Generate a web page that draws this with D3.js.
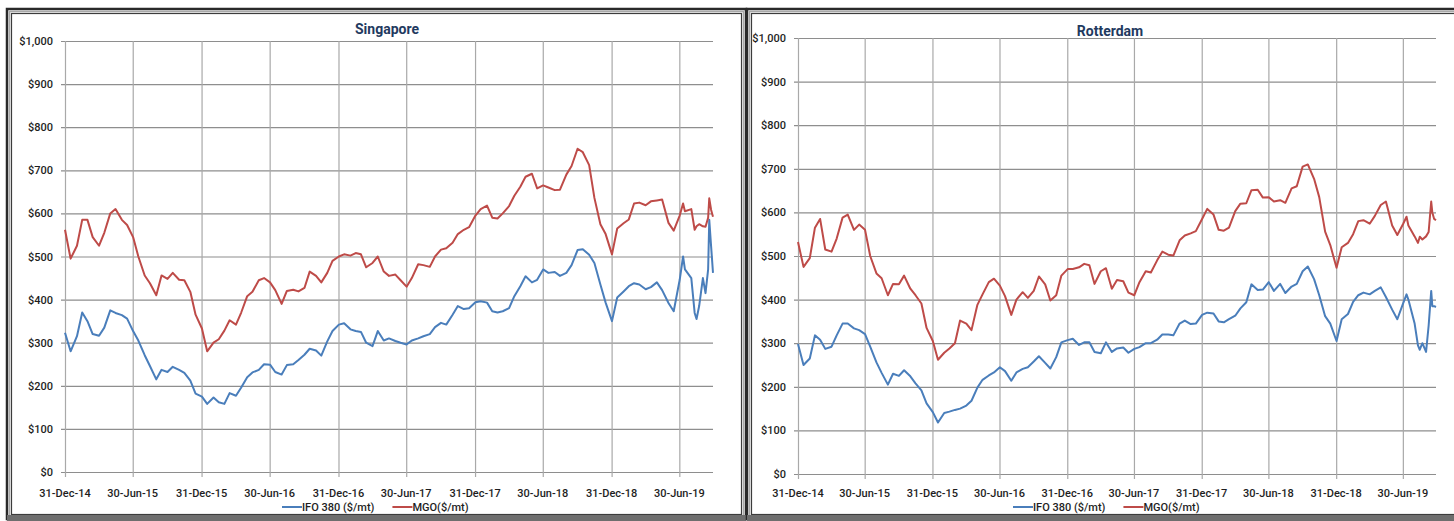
<!DOCTYPE html>
<html>
<head>
<meta charset="utf-8">
<script src="https://cdn.jsdelivr.net/npm/d3@7"></script>
<style>
body { margin: 0; background: #fff; }
svg { display: block; font-family: Roboto, "Liberation Sans", sans-serif; }
</style>
</head>
<body>
<div id="chart"></div>
<script>
// Bunker prices (semi-monthly samples)
const dates = [
  "2014-12-31",
  "2015-01-15", "2015-02-01", "2015-02-15", "2015-03-01", "2015-03-15", "2015-04-01", "2015-04-15",
  "2015-05-01", "2015-05-15", "2015-06-01", "2015-06-15", "2015-07-01", "2015-07-15", "2015-08-01",
  "2015-08-15", "2015-09-01", "2015-09-15", "2015-10-01", "2015-10-15", "2015-11-01", "2015-11-15",
  "2015-12-01", "2015-12-15",
  "2016-01-01", "2016-01-15", "2016-02-01", "2016-02-15", "2016-03-01", "2016-03-15", "2016-04-01",
  "2016-04-15", "2016-05-01", "2016-05-15", "2016-06-01", "2016-06-15", "2016-07-01", "2016-07-15",
  "2016-08-01", "2016-08-15", "2016-09-01", "2016-09-15", "2016-10-01", "2016-10-15", "2016-11-01",
  "2016-11-15", "2016-12-01", "2016-12-15",
  "2017-01-01", "2017-01-15", "2017-02-01", "2017-02-15", "2017-03-01", "2017-03-15", "2017-04-01",
  "2017-04-15", "2017-05-01", "2017-05-15", "2017-06-01", "2017-06-15", "2017-07-01", "2017-07-15",
  "2017-08-01", "2017-08-15", "2017-09-01", "2017-09-15", "2017-10-01", "2017-10-15", "2017-11-01",
  "2017-11-15", "2017-12-01", "2017-12-15",
  "2018-01-01", "2018-01-15", "2018-02-01", "2018-02-15", "2018-03-01", "2018-03-15", "2018-04-01",
  "2018-04-15", "2018-05-01", "2018-05-15", "2018-06-01", "2018-06-15", "2018-07-01", "2018-07-15",
  "2018-08-01", "2018-08-15", "2018-09-01", "2018-09-15", "2018-10-01", "2018-10-15", "2018-11-01",
  "2018-11-15", "2018-12-01", "2018-12-15",
  "2019-01-01", "2019-01-15", "2019-02-01", "2019-02-15", "2019-03-01", "2019-03-15", "2019-04-01",
  "2019-04-15", "2019-05-01", "2019-05-15", "2019-06-01", "2019-06-15", "2019-07-01", "2019-07-10",
  "2019-07-15", "2019-08-01", "2019-08-10", "2019-08-15", "2019-08-22", "2019-09-01", "2019-09-08",
  "2019-09-15", "2019-09-18", "2019-09-23", "2019-09-28"
];

const sgIfo = [
  323, 280, 315, 370, 350, 320, 316, 335, 375, 369, 364, 356, 327, 305, 271, 246, 215, 237, 232, 244, 237, 230, 212, 182,
  175, 158, 173, 162, 158, 183, 177, 196, 220, 231, 237, 250, 249, 232, 226, 248, 250, 260, 272, 286, 282, 270, 303, 327,
  342, 345, 331, 327, 325, 300, 292, 327, 305, 310, 304, 300, 296, 305, 310, 315, 320, 336, 346, 342, 365, 385, 378, 380,
  394, 396, 393, 373, 370, 373, 380, 408, 431, 454, 440, 446, 470, 462, 464, 455, 462, 480, 515, 517, 504, 485, 435, 393,
  350, 405, 419, 431, 438, 435, 424, 429, 440, 422, 392, 373, 446, 500, 470, 450, 369, 355, 385, 450, 415, 470, 585, 523, 462
];
const sgMgo = [
  562, 495, 525, 585, 585, 545, 525, 555, 600, 610, 585, 573, 545, 500, 456, 438, 410, 456, 448, 462, 446, 445, 418, 365,
  333, 280, 300, 308, 328, 352, 342, 370, 408, 418, 445, 450, 440, 422, 390, 420, 423, 419, 427, 465, 455, 440, 462, 490,
  500, 505, 502, 508, 505, 475, 485, 500, 465, 455, 458, 445, 430, 450, 482, 480, 476, 500, 516, 519, 532, 552, 562, 568,
  595, 610, 618, 590, 588, 600, 617, 641, 662, 685, 692, 658, 665, 660, 654, 655, 690, 710, 750, 742, 712, 636, 575, 552,
  505, 565, 577, 586, 623, 625, 619, 628, 630, 632, 578, 560, 595, 623, 605, 610, 562, 570, 575, 570, 569, 590, 635, 608, 592
];
const rtIfo = [
  298, 250, 265, 318, 308, 287, 292, 318, 345, 345, 334, 330, 321, 292, 256, 232, 205, 230, 225, 238, 224, 208, 192, 162,
  142, 118, 140, 143, 147, 150, 157, 168, 198, 216, 226, 233, 245, 236, 214, 233, 241, 245, 258, 270, 255, 242, 268, 302,
  307, 310, 296, 302, 302, 280, 277, 302, 280, 288, 290, 278, 287, 291, 300, 300, 308, 320, 320, 318, 345, 352, 344, 345,
  365, 370, 368, 350, 348, 355, 363, 380, 394, 435, 422, 423, 440, 420, 436, 415, 430, 436, 465, 476, 447, 410, 362, 345,
  305, 355, 367, 395, 410, 416, 412, 420, 428, 406, 377, 355, 392, 412, 400, 345, 295, 285, 300, 280, 340, 420, 385, 385, 383
];
const rtMgo = [
  532, 475, 495, 565, 585, 515, 510, 540, 588, 595, 560, 572, 560, 500, 460, 449, 410, 436, 435, 455, 425, 410, 391, 335,
  305, 262, 278, 288, 300, 352, 345, 330, 388, 412, 440, 448, 432, 408, 365, 400, 417, 404, 420, 453, 435, 398, 410, 455,
  470, 470, 474, 482, 479, 436, 465, 472, 425, 445, 442, 416, 410, 440, 465, 462, 490, 510, 503, 501, 536, 547, 552, 557,
  585, 608, 595, 560, 558, 565, 603, 620, 621, 651, 652, 634, 635, 625, 628, 622, 655, 660, 705, 710, 677, 635, 556, 525,
  473, 520, 530, 550, 580, 582, 574, 592, 617, 625, 570, 548, 574, 590, 570, 545, 530, 544, 538, 545, 555, 625, 600, 585, 582
];

const yTicks = [0, 100, 200, 300, 400, 500, 600, 700, 800, 900, 1000];
const xTickDates = ["2014-12-31", "2015-06-30", "2015-12-31", "2016-06-30", "2016-12-31",
  "2017-06-30", "2017-12-31", "2018-06-30", "2018-12-31", "2019-06-30"];
const seriesNames = ["IFO 380 ($/mt)", "MGO($/mt)"];
const seriesColors = ["#4a7ebb", "#be4b48"];
const panelTitles = ["Singapore", "Rotterdam"];

const parse = d3.timeParse("%Y-%m-%d");
const fmtTick = d3.timeFormat("%-d-%b-%y");
const fmtY = d3.format("$,");

const W = 1454, H = 521;
const svg = d3.select("#chart").append("svg")
  .attr("width", W)
  .attr("height", H);

// layout of the two chart boxes
const panels = [
  { title: panelTitles[0], series: [sgIfo, sgMgo],
    frame: { x: 7, y: 9, w: 739, h: 510 },
    plot: { left: 65, right: 713, top: 41, bottom: 472 },
    titleX: 387, titleY: 34, legendX: 282 },
  { title: panelTitles[1], series: [rtIfo, rtMgo],
    frame: { x: 747, y: 9, w: 720, h: 510 },
    plot: { left: 798, right: 1436, top: 38, bottom: 474 },
    titleX: 1110, titleY: 36, legendX: 1013 }
];

const xDomain = [parse(dates[0]), parse(dates[dates.length - 1])];

panels.forEach(p => {
  const g = svg.append("g");
  const f = p.frame;

  // double frame like the spreadsheet chart border
  g.append("rect").attr("x", f.x).attr("y", f.y).attr("width", f.w).attr("height", f.h)
    .attr("fill", "#fff").attr("stroke", "#2a2a2a").attr("stroke-width", 2.5);
  g.append("rect").attr("x", f.x + 2.5).attr("y", f.y + 2.5).attr("width", f.w - 5).attr("height", f.h - 5)
    .attr("fill", "none").attr("stroke", "#a8a8a8").attr("stroke-width", 1.5);
  g.append("rect").attr("x", f.x + 4.5).attr("y", f.y + 4.5).attr("width", f.w - 9).attr("height", f.h - 9)
    .attr("fill", "none").attr("stroke", "#3c3c3c").attr("stroke-width", 1.2);
  // grey shadow band along the bottom edge
  g.append("rect").attr("x", f.x).attr("y", f.y + f.h - 4).attr("width", f.w).attr("height", 6)
    .attr("fill", "#6e6e6e");

  const x = d3.scaleTime().domain(xDomain).range([p.plot.left, p.plot.right]);
  const y = d3.scaleLinear().domain([0, 1000]).range([p.plot.bottom, p.plot.top]);
  const pw = p.plot.right - p.plot.left;
  const ph = p.plot.bottom - p.plot.top;

  // horizontal gridlines + y ticks
  g.append("g")
    .attr("transform", `translate(${p.plot.left},0)`)
    .call(d3.axisLeft(y).tickValues(yTicks).tickSizeInner(-pw).tickSizeOuter(0).tickFormat(""))
    .call(a => a.select(".domain").remove())
    .call(a => a.selectAll("line").attr("stroke", "#8e8e8e").attr("stroke-width", 1.2)
      .attr("x1", -4));

  // vertical gridlines + x ticks
  g.append("g")
    .attr("transform", `translate(0,${p.plot.bottom})`)
    .call(d3.axisBottom(x).tickValues(xTickDates.map(parse)).tickSizeInner(-ph).tickSizeOuter(0).tickFormat(""))
    .call(a => a.select(".domain").remove())
    .call(a => a.selectAll("line").attr("stroke", "#a9a9a9").attr("stroke-width", 1.2)
      .attr("y1", 5));

  // y labels
  g.selectAll(".ylab")
    .data(yTicks)
    .enter()
    .append("text")
    .attr("x", p.plot.left - 12)
    .attr("y", d => y(d) + 4)
    .attr("text-anchor", "end")
    .attr("font-size", "11px")
    .attr("font-weight", 500)
    .attr("fill", "#1e1e1e")
    .text(d => fmtY(d));

  // x labels
  g.selectAll(".xlab")
    .data(xTickDates)
    .enter()
    .append("text")
    .attr("x", d => x(parse(d)))
    .attr("y", 497)
    .attr("text-anchor", "middle")
    .attr("font-size", "11px")
    .attr("font-weight", 500)
    .attr("fill", "#1e1e1e")
    .text(d => fmtTick(parse(d)));

  // title
  g.append("text")
    .attr("x", p.titleX)
    .attr("y", p.titleY)
    .attr("text-anchor", "middle")
    .attr("font-size", "14px")
    .attr("font-weight", "bold")
    .attr("fill", "#1f3a5f")
    .text(p.title);

  // series lines
  const line = d3.line()
    .x((d, i) => x(parse(dates[i])))
    .y(d => y(d));

  p.series.forEach((vals, k) => {
    g.append("path")
      .datum(vals)
      .attr("fill", "none")
      .attr("stroke", seriesColors[k])
      .attr("stroke-width", 2)
      .attr("stroke-linejoin", "round")
      .attr("d", line);
  });

  // legend
  let lx = p.legendX;
  seriesNames.forEach((name, k) => {
    g.append("line")
      .attr("x1", lx).attr("x2", lx + 20)
      .attr("y1", 507).attr("y2", 507)
      .attr("stroke", seriesColors[k])
      .attr("stroke-width", 2);
    const t = g.append("text")
      .attr("x", lx + 20)
      .attr("y", 511)
      .attr("font-size", "11px")
      .attr("font-weight", 500)
      .attr("fill", "#1e1e1e")
      .text(name);
    lx += 20 + t.node().getComputedTextLength() + 18;
  });
});
</script>
</body>
</html>
